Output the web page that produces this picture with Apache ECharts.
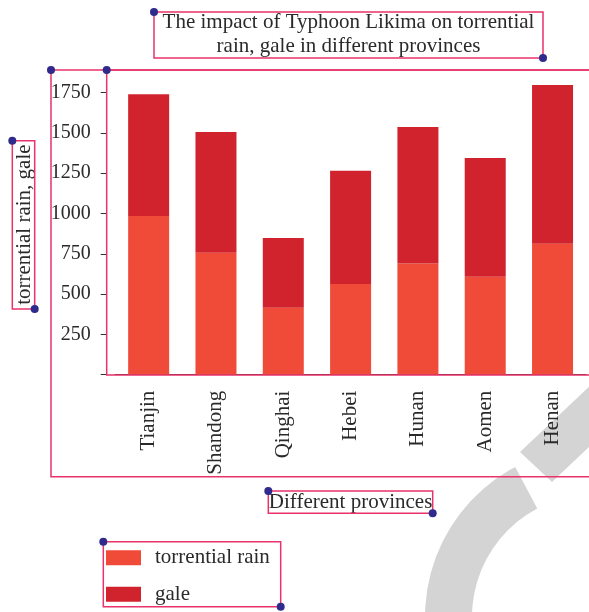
<!DOCTYPE html>
<html>
<head>
<meta charset="utf-8">
<script src="https://cdn.jsdelivr.net/npm/echarts@6/dist/echarts.min.js"></script>
<style>
  html, body { margin: 0; padding: 0; background: #ffffff; }
  #chart { width: 589px; height: 612px; }
</style>
</head>
<body>
<div id="chart"></div>
<script>
// Categories and stacked values (rain at the bottom, gale on top)
const provinces = ['Tianjin', 'Shandong', 'Qinghai', 'Hebei', 'Hunan', 'Aomen', 'Henan'];
const torrentialRain = [985, 757, 416, 563, 689, 608, 813];
const gale = [755, 748, 432, 702, 848, 736, 984];

// Value-axis ticks (the zero tick carries no label)
const yTickValues = [0, 250, 500, 750, 1000, 1250, 1500, 1750];
const yTickLabels = [250, 500, 750, 1000, 1250, 1500, 1750];

const FONT = 'Liberation Serif';
const TEXT = '#2a2a2a';
const RAIN = '#f04a38';
const GALE = '#d0232d';
const PINK = '#e8336b';
const DOT = '#2f2a8c';

const chart = echarts.init(document.getElementById('chart'), null, { renderer: 'canvas' });

// Outlined boxes with handle dots around the chart parts
function box(x1, y1, x2, y2, dots) {
  const els = [{
    type: 'rect', z: 100, silent: true,
    shape: { x: x1, y: y1, width: x2 - x1, height: y2 - y1 },
    style: { fill: null, stroke: PINK, lineWidth: 1.5 }
  }];
  dots.forEach(function (p) {
    els.push({
      type: 'circle', z: 101, silent: true,
      shape: { cx: p[0], cy: p[1], r: 4 },
      style: { fill: DOT }
    });
  });
  return els;
}

const graphics = [].concat(
  // faint logo shape behind everything
  [{
    type: 'sector', z: -10, silent: true,
    shape: { cx: 595, cy: 617, r: 170, r0: 123, startAngle: 150 * Math.PI / 180, endAngle: 242 * Math.PI / 180, clockwise: true },
    style: { fill: '#d4d4d4' }
  }, {
    type: 'polygon', z: -10, silent: true,
    shape: { points: [[520, 452], [552, 482], [661, 379], [629, 349]] },
    style: { fill: '#d4d4d4' }
  }],
  [{
    type: 'text', z: 50, silent: true,
    style: {
      text: 'The impact of Typhoon Likima on torrential\nrain, gale in different provinces',
      x: 348.5, y: 10, align: 'center', verticalAlign: 'top',
      font: '21px "' + FONT + '"', lineHeight: 24, fill: TEXT
    }
  }],
  box(154, 12, 543, 58, [[154, 12], [543, 58]]),
  box(51, 70, 700, 476.7, [[51, 70]]),
  box(106.7, 70, 700, 375, [[106.7, 70]]),
  box(12.3, 140.7, 34.7, 309, [[12.3, 140.7], [34.7, 309]]),
  box(268.3, 491, 432.7, 513.3, [[268.3, 491], [432.7, 513.3]]),
  box(103.3, 541.7, 280.7, 606.7, [[103.3, 541.7], [280.7, 606.7]])
);

const option = {
  animation: false,
  backgroundColor: '#ffffff',
  textStyle: { fontFamily: FONT, color: TEXT },
  grid: { left: 115, right: 2.8, top: 84.5, bottom: 237.3, containLabel: false },
  legend: {
    orient: 'vertical', left: 106, top: 547.3, padding: 0,
    itemWidth: 35, itemHeight: 15, itemGap: 15.4, icon: 'rect',
    textStyle: { fontFamily: FONT, fontSize: 21, color: TEXT, padding: [0, 0, 0, 9] },
    data: ['torrential rain', 'gale']
  },
  xAxis: {
    type: 'category',
    data: provinces,
    name: 'Different provinces',
    nameLocation: 'middle',
    nameGap: 117,
    nameTextStyle: { fontFamily: FONT, fontSize: 21, color: TEXT },
    axisLine: { lineStyle: { color: '#333' } },
    axisTick: { alignWithLabel: true, length: 6, lineStyle: { color: '#333' } },
    axisLabel: { rotate: 90, margin: 16, fontFamily: FONT, fontSize: 21, color: TEXT }
  },
  yAxis: {
    type: 'value',
    min: 0, max: 1800,
    offset: 8.3,
    name: 'torrential rain, gale',
    nameLocation: 'middle',
    nameRotate: 90,
    nameGap: 71.5,
    nameTextStyle: { fontFamily: FONT, fontSize: 21, color: TEXT, padding: [0, 0, 0, 10] },
    splitLine: { show: false },
    axisLine: { show: true, lineStyle: { color: '#333' } },
    axisTick: { show: true, length: 6, customValues: yTickValues, lineStyle: { color: '#333' } },
    axisLabel: {
      margin: 16, customValues: yTickLabels, fontFamily: FONT, fontSize: 20, color: TEXT,
      formatter: function (v) { return String(v); }
    }
  },
  series: [{
    name: 'torrential rain', type: 'bar', stack: 'total', barWidth: 41,
    itemStyle: { color: RAIN }, data: torrentialRain
  }, {
    name: 'gale', type: 'bar', stack: 'total', barWidth: 41,
    itemStyle: { color: GALE }, data: gale
  }],
  graphic: { elements: graphics }
};

chart.setOption(option);
</script>
</body>
</html>
